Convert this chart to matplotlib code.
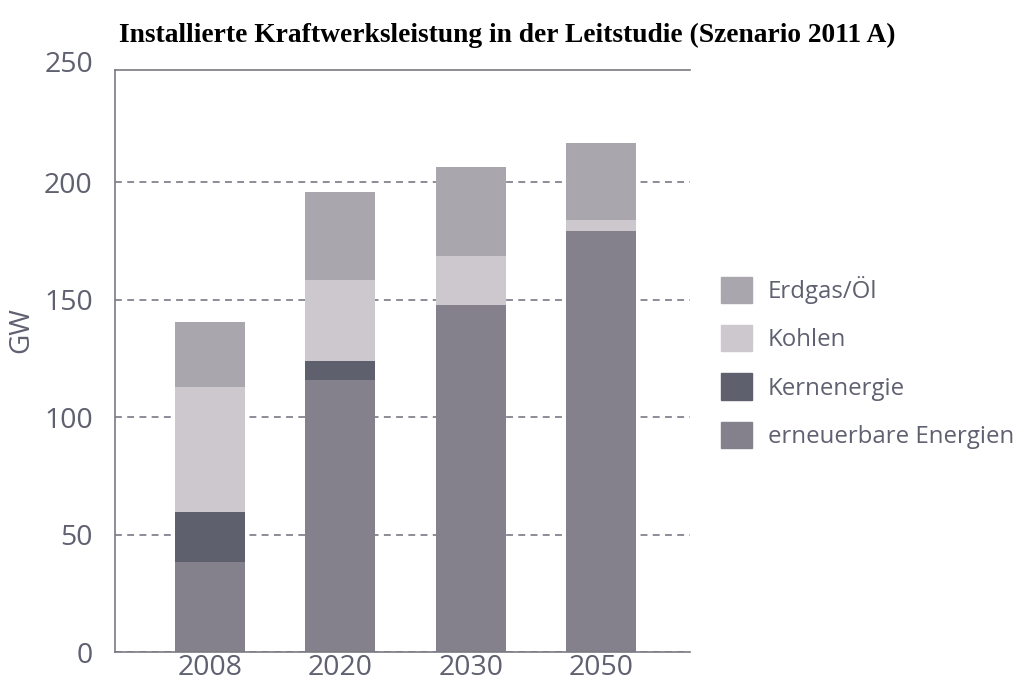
import matplotlib.pyplot as plt
from matplotlib.patches import Patch
import numpy as np

# Data (GW)
years = ["2008", "2020", "2030", "2050"]
erneuerbare = [38.6, 116.0, 147.9, 179.4]
kernenergie = [21.3, 8.0, 0.0, 0.0]
kohlen = [53.2, 34.5, 20.8, 4.6]
erdgas_oel = [27.5, 37.5, 37.9, 32.9]

series_labels = ["erneuerbare Energien", "Kernenergie", "Kohlen", "Erdgas/Öl"]
colors = ["#84818c", "#5f606d", "#cdc8ce", "#a9a6ad"]

text_col = "#5f6070"
plt.rcParams["font.family"] = ["Open Sans", "DejaVu Sans"]

fig = plt.figure(figsize=(10.2, 6.84), dpi=100)
ax = fig.add_axes([0.1127, 0.0461, 0.5637, 0.8511])

x = np.arange(len(years))
bottom = np.zeros(len(years))
for vals, lab, c in zip([erneuerbare, kernenergie, kohlen, erdgas_oel], series_labels, colors):
    ax.bar(x, vals, width=0.536, bottom=bottom, color=c, label=lab, zorder=2)
    bottom += np.array(vals)

ax.set_xlim(-0.728, 3.678)
ax.set_ylim(0, 247.7)
ax.set_yticks([0, 50, 100, 150, 200])
ax.set_xticks(x)
ax.set_xticklabels(years)
# the 250 label sits just above the top line
ax.text(-0.728 - 22 / 130.5, 250, "250", ha="right", va="center",
        fontsize=20.5, color=text_col, clip_on=False)

ax.tick_params(axis="both", length=0, labelsize=20.5, labelcolor=text_col)
ax.tick_params(axis="y", pad=16)
ax.tick_params(axis="x", pad=1)

ax.grid(axis="y", linestyle=(0, (4.5, 3.5)), color="#6e6e7a", linewidth=1.1, zorder=1)
ax.set_axisbelow(True)

for s in ["left", "bottom", "top"]:
    ax.spines[s].set_color("#7a7a85")
    ax.spines[s].set_linewidth(1.2)
ax.spines["right"].set_visible(False)

fig.text(0.0213, 1 - 330 / 684, "GW", rotation=90, ha="center", va="center",
         fontsize=20, color=text_col)

fig.suptitle("Installierte Kraftwerksleistung in der Leitstudie (Szenario 2011 A)",
             x=0.497, y=1 - 35 / 684, va="center", fontsize=19.8, fontweight="bold",
             family="Liberation Serif", color="black")

handles = [Patch(color=c) for c in colors][::-1]
fig.legend(handles, series_labels[::-1], loc="upper left",
           bbox_to_anchor=(721 / 1020, 1 - 276 / 684), frameon=False,
           fontsize=17.3, labelcolor=text_col, borderpad=0, borderaxespad=0,
           handlelength=1.3, handleheight=1.3, labelspacing=0.88,
           handletextpad=0.66)

fig.savefig("out.png", dpi=100)
